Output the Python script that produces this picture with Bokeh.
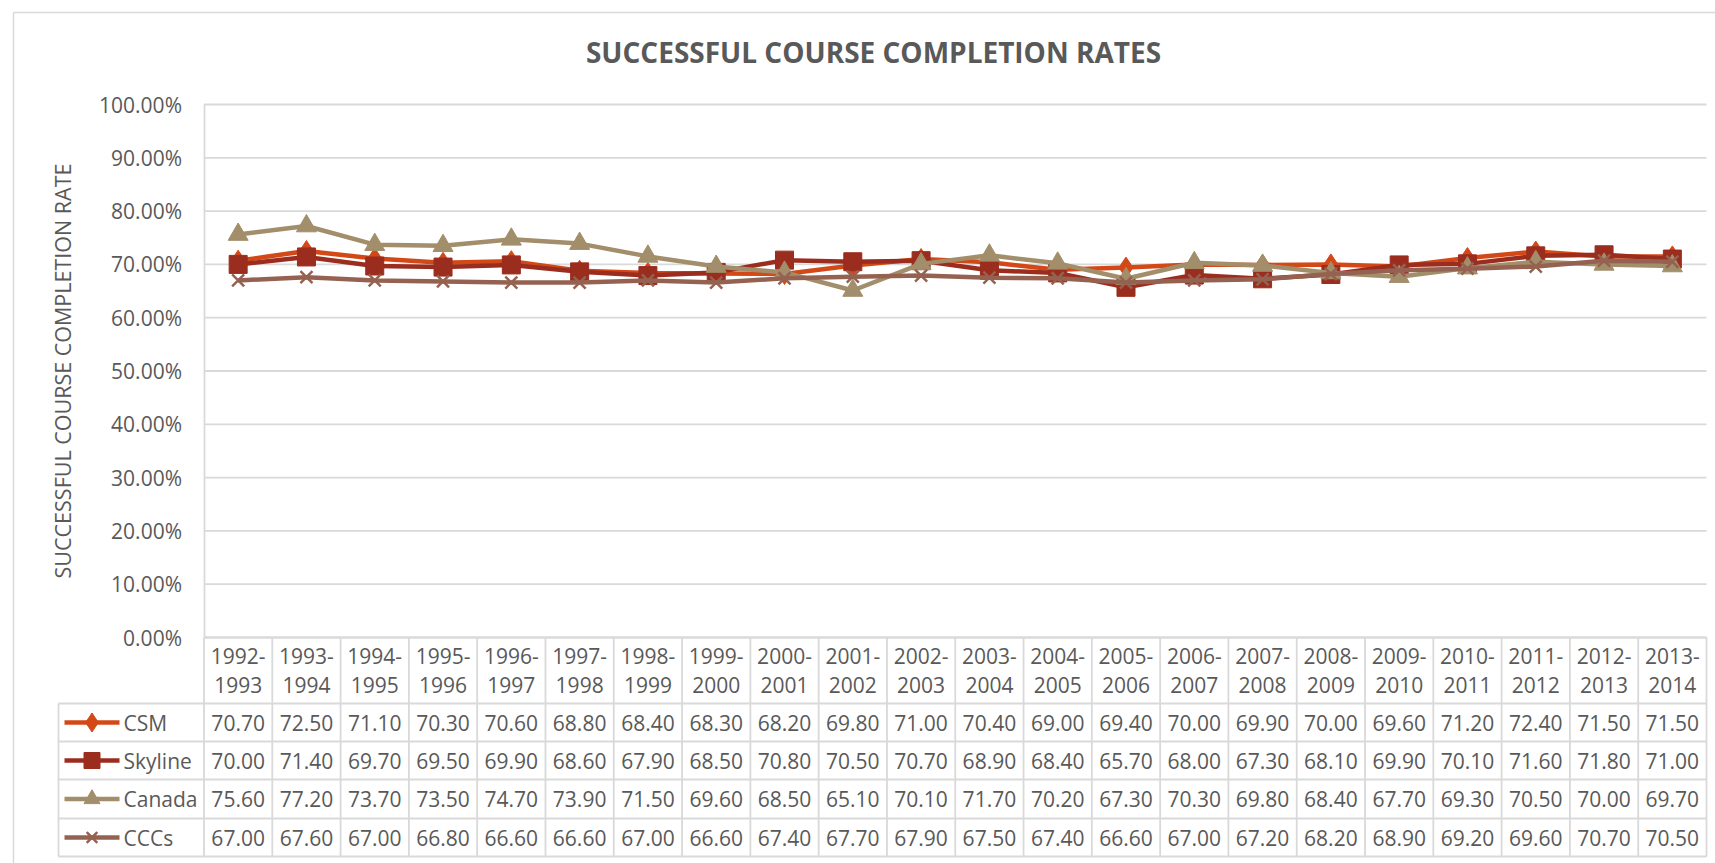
from bokeh.plotting import figure
from bokeh.models import Range1d, LinearAxis, FixedTicker, NumeralTickFormatter, ColumnDataSource
from bokeh.core.properties import value
from bokeh.embed import file_html
from bokeh.resources import INLINE

# ---------------- data ----------------
categories = ["1992-1993", "1993-1994", "1994-1995", "1995-1996", "1996-1997", "1997-1998",
              "1998-1999", "1999-2000", "2000-2001", "2001-2002", "2002-2003", "2003-2004",
              "2004-2005", "2005-2006", "2006-2007", "2007-2008", "2008-2009", "2009-2010",
              "2010-2011", "2011-2012", "2012-2013", "2013-2014"]
csm = [70.70, 72.50, 71.10, 70.30, 70.60, 68.80, 68.40, 68.30, 68.20, 69.80, 71.00,
       70.40, 69.00, 69.40, 70.00, 69.90, 70.00, 69.60, 71.20, 72.40, 71.50, 71.50]
skyline = [70.00, 71.40, 69.70, 69.50, 69.90, 68.60, 67.90, 68.50, 70.80, 70.50, 70.70,
           68.90, 68.40, 65.70, 68.00, 67.30, 68.10, 69.90, 70.10, 71.60, 71.80, 71.00]
canada = [75.60, 77.20, 73.70, 73.50, 74.70, 73.90, 71.50, 69.60, 68.50, 65.10, 70.10,
          71.70, 70.20, 67.30, 70.30, 69.80, 68.40, 67.70, 69.30, 70.50, 70.00, 69.70]
cccs = [67.00, 67.60, 67.00, 66.80, 66.60, 66.60, 67.00, 66.60, 67.40, 67.70, 67.90,
        67.50, 67.40, 66.60, 67.00, 67.20, 68.20, 68.90, 69.20, 69.60, 70.70, 70.50]
series_names = ["CSM", "Skyline", "Canada", "CCCs"]
y_ticks = [0.0, 0.1, 0.2, 0.3, 0.4, 0.5, 0.6, 0.7, 0.8, 0.9, 1.0]
title_text = "SUCCESSFUL COURSE COMPLETION RATES"
y_label = "SUCCESSFUL COURSE COMPLETION RATE"

# ---------------- styles / layout ----------------
colors = ["#D34817", "#9B2D1F", "#A28E6A", "#956251"]
markers = ["diamond", "square", "triangle", "x"]
msizes = [21, 18, 20, 17]
TXT = "#595959"
GRID = "#d9d9d9"
FONT = "Open Sans"

W, H = 1715, 863
OFF = 0
PL, PR = 203.5, 1706.0
COLW = (PR - PL) / len(categories)
Y0, Y100 = 637.0, 104.0
UNIT = Y0 - Y100
ROWS = [637.0, 703.0, 741.0, 779.0, 818.0, 856.0]   # table row borders (page px)
LEG_L = 58.0

p = figure(width=W, height=H, output_backend="svg", toolbar_location=None, tools="",
           x_range=Range1d((OFF - PL) / COLW, (OFF + W - PL) / COLW),
           y_range=Range1d((Y0 - (OFF + H)) / UNIT, (Y0 - OFF) / UNIT),
           x_axis_location=None, y_axis_location=None, min_border=0)
p.extra_x_ranges = {"px": Range1d(OFF, OFF + W)}
p.extra_y_ranges = {"px": Range1d(OFF + H, OFF)}
p.outline_line_color = None
p.grid.visible = False
p.background_fill_color = "white"
p.border_fill_color = "white"

n = len(categories)

# chart border (light gray)
p.segment(x0=[13, 13], y0=[12, 12], x1=[13, OFF + W], y1=[OFF + H, 12],
          x_range_name="px", y_range_name="px", line_color=GRID, line_width=1.5)

# horizontal gridlines
p.segment(x0=[0] * len(y_ticks), x1=[n] * len(y_ticks), y0=y_ticks, y1=y_ticks,
          line_color=GRID, line_width=1.8)

# y axis (fixed inside the frame)
yaxis = LinearAxis(fixed_location=0, bounds=(0, 1), ticker=FixedTicker(ticks=y_ticks),
                   formatter=NumeralTickFormatter(format="0.00%"), axis_label=y_label)
yaxis.axis_line_color = GRID
yaxis.axis_line_width = 1.8
yaxis.major_tick_line_color = None
yaxis.minor_tick_line_color = None
yaxis.major_tick_out = 0
yaxis.major_tick_in = 0
yaxis.major_label_standoff = 22
yaxis.major_label_text_font = FONT
yaxis.major_label_text_font_size = "21px"
yaxis.major_label_text_color = TXT
yaxis.axis_label_text_font = FONT
yaxis.axis_label_text_font_size = "21.5px"
yaxis.axis_label_text_font_style = "normal"
yaxis.axis_label_text_color = TXT
yaxis.axis_label_standoff = 20
p.add_layout(yaxis, "left")

# series
xs = [i + 0.5 for i in range(n)]
all_series = [csm, skyline, canada, cccs]
for vals, col, mk, ms in zip(all_series, colors, markers, msizes):
    ys = [v / 100.0 for v in vals]
    p.line(xs, ys, line_color=col, line_width=4.5)
    if mk == "x":
        p.scatter(xs, ys, marker=mk, size=ms, line_color=col, line_width=2.5)
    else:
        p.scatter(xs, ys, marker=mk, size=ms, fill_color=col, line_color=col)

# ---------------- data table ----------------
p.segment(x0=[0], x1=[n], y0=[ROWS[0]], y1=[ROWS[0]], y_range_name="px",
          line_color=GRID, line_width=1.8)
leg_l = (LEG_L - PL) / COLW
p.segment(x0=[leg_l] * 5, x1=[n] * 5, y0=ROWS[1:], y1=ROWS[1:], y_range_name="px",
          line_color=GRID, line_width=1.8)
p.segment(x0=list(range(n + 1)), x1=list(range(n + 1)), y0=[ROWS[0]] * (n + 1),
          y1=[ROWS[-1]] * (n + 1), y_range_name="px", line_color=GRID, line_width=1.8)
p.segment(x0=[leg_l], x1=[leg_l], y0=[ROWS[1]], y1=[ROWS[-1]], y_range_name="px",
          line_color=GRID, line_width=1.8)

# header text (two lines)
top = [c.split("-")[0] + "-" for c in categories]
bot = [c.split("-")[1] for c in categories]
hdr_mid = (ROWS[0] + ROWS[1]) / 2
p.text(x=xs, y=[hdr_mid - 14.5] * n, text=top, y_range_name="px",
       text_font=value(FONT), text_font_size="21px", text_color=TXT,
       text_align="center", text_baseline="middle")
p.text(x=xs, y=[hdr_mid + 14.5] * n, text=bot, y_range_name="px",
       text_font=value(FONT), text_font_size="21px", text_color=TXT,
       text_align="center", text_baseline="middle")

# value cells
for r, vals in enumerate(all_series):
    yc = (ROWS[r + 1] + ROWS[r + 2]) / 2
    src = ColumnDataSource(dict(x=xs, y=[yc] * n, t=["%.2f" % v for v in vals]))
    p.text(x="x", y="y", text="t", source=src, y_range_name="px",
           text_font=value(FONT), text_font_size="21px", text_color=TXT,
           text_align="center", text_baseline="middle")

# legend keys inside table
for r, (name, col, mk) in enumerate(zip(series_names, colors, markers)):
    yc = (ROWS[r + 1] + ROWS[r + 2]) / 2
    p.line([64, 119], [yc, yc], x_range_name="px", y_range_name="px",
           line_color=col, line_width=4.5)
    if mk == "x":
        p.scatter([91.5], [yc], marker=mk, size=15, line_color=col, line_width=2.5,
                  x_range_name="px", y_range_name="px")
    else:
        p.scatter([91.5], [yc], marker=mk, size=16 if mk != "diamond" else 19,
                  fill_color=col, line_color=col,
                  x_range_name="px", y_range_name="px")
    p.text(x=[123], y=[yc], text=[name], x_range_name="px", y_range_name="px",
           text_font=value(FONT), text_font_size="21px", text_color=TXT,
           text_align="left", text_baseline="middle")

# title
p.text(x=[873], y=[51], text=[title_text], x_range_name="px", y_range_name="px",
       text_font=value(FONT), text_font_size="28px", text_font_style="bold",
       text_color=TXT, text_align="center", text_baseline="middle")

open("out.html", "w").write(file_html(p, INLINE))
